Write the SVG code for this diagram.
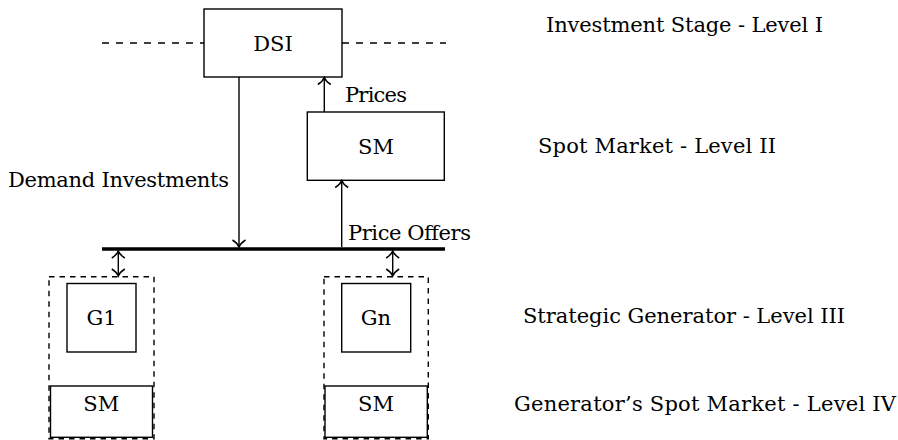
<svg xmlns="http://www.w3.org/2000/svg" width="898" height="440" viewBox="0 0 898 440">
<style>
  text { font-family: "DejaVu Serif", "Liberation Serif", "Noto Serif", serif; font-size: 21px; fill: #000; }
  .mid { text-anchor: middle; }
  .box { fill: none; stroke: #000; stroke-width: 1.4; }
  .dbox { fill: none; stroke: #000; stroke-width: 1.4; stroke-dasharray: 5.5 5; }
  .dline { fill: none; stroke: #000; stroke-width: 1.4; stroke-dasharray: 7 7; }
  .conn { fill: none; stroke: #000; stroke-width: 1.4; }
  .bus { fill: none; stroke: #000; stroke-width: 3.4; }
</style>
<defs>
  <marker id="arr" viewBox="-9 -8 11 16" refX="0" refY="0" markerWidth="11" markerHeight="16" markerUnits="userSpaceOnUse" orient="auto-start-reverse">
    <path d="M -7,-6.5 C -4.5,-2.5 -1.8,-0.7 0,0 C -1.8,0.7 -4.5,2.5 -7,6.5" fill="none" stroke="#000" stroke-width="1.5"/>
  </marker>
</defs>

<g id="connectors">
  <line class="dline" x1="102" y1="43" x2="204" y2="43"/>
  <line class="dline" x1="342" y1="43" x2="446" y2="43"/>
  <line class="bus" x1="102" y1="249" x2="445" y2="249"/>
  <line class="conn" x1="239" y1="77" x2="239" y2="247" marker-end="url(#arr)"/>
  <line class="conn" x1="324.3" y1="112" x2="324.3" y2="77.5" marker-end="url(#arr)"/>
  <line class="conn" x1="341.7" y1="247" x2="341.7" y2="180.5" marker-end="url(#arr)"/>
  <line class="conn" x1="118.3" y1="251" x2="118.3" y2="276" marker-start="url(#arr)" marker-end="url(#arr)"/>
  <line class="conn" x1="392.7" y1="251" x2="392.7" y2="276" marker-start="url(#arr)" marker-end="url(#arr)"/>
  <text x="8" y="187" textLength="221">Demand Investments</text>
  <text x="345" y="102" textLength="62">Prices</text>
  <text x="348" y="240" textLength="123">Price Offers</text>
</g>

<g id="dsi">
  <rect class="box" x="204" y="9" width="138" height="68"/>
  <text class="mid" x="273" y="51">DSI</text>
</g>

<g id="sm-top">
  <rect class="box" x="307.3" y="112" width="137" height="68.3"/>
  <text class="mid" x="376" y="154">SM</text>
</g>

<g id="gen1">
  <rect class="dbox" x="49" y="276.7" width="105" height="162"/>
  <rect class="box" x="67" y="283.5" width="69" height="68.5"/>
  <text class="mid" x="101.5" y="325">G1</text>
</g>

<g id="sm1">
  <rect class="box" x="50.5" y="386" width="102" height="51.3"/>
  <text class="mid" x="101.3" y="411">SM</text>
</g>

<g id="genn">
  <rect class="dbox" x="324" y="276.7" width="104.3" height="162"/>
  <rect class="box" x="341.7" y="283.5" width="69" height="68.5"/>
  <text class="mid" x="376" y="325">Gn</text>
</g>

<g id="smn">
  <rect class="box" x="325" y="386" width="102.3" height="51.3"/>
  <text class="mid" x="376" y="411">SM</text>
</g>

<g id="levels">
  <text x="546" y="32" textLength="277">Investment Stage - Level I</text>
  <text x="538" y="153" textLength="238">Spot Market - Level II</text>
  <text x="523" y="323" textLength="322">Strategic Generator - Level III</text>
  <text x="514" y="411" textLength="382">Generator’s Spot Market - Level IV</text>
</g>
</svg>
